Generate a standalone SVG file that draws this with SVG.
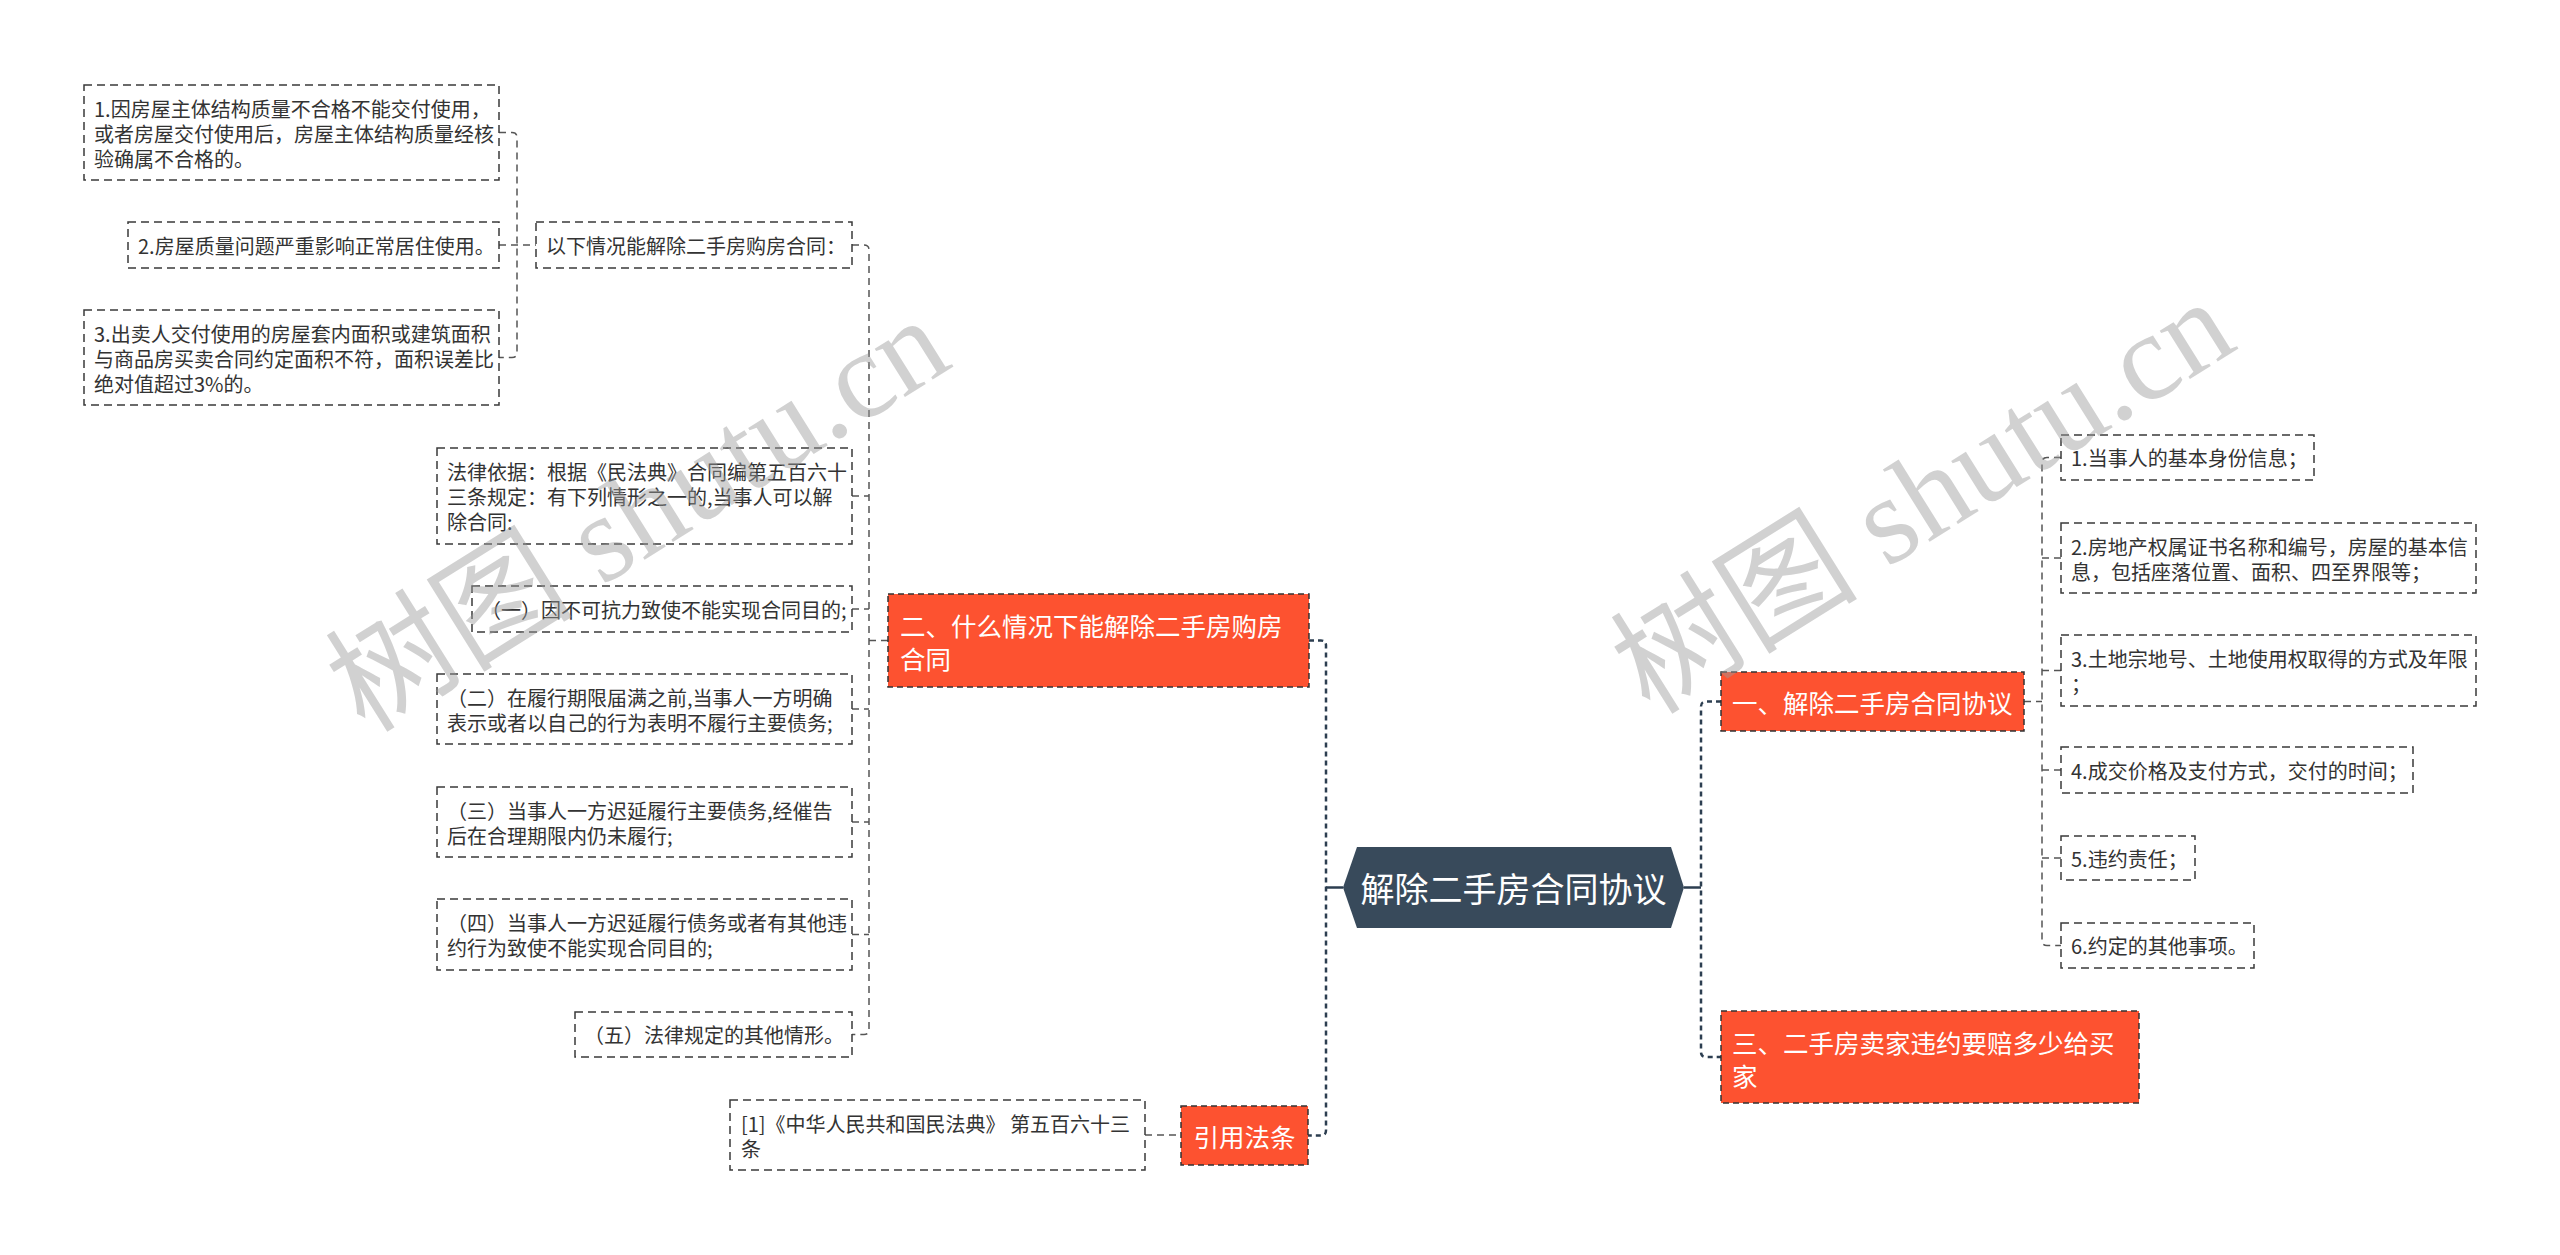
<svg xmlns="http://www.w3.org/2000/svg" width="2560" height="1255" viewBox="0 0 2560 1255">
<style>
  .bg { fill: #ffffff; }
  .leaf rect { fill: #ffffff; stroke: #3a3a3a; stroke-width: 1.5; stroke-dasharray: 8 5; }
  .leaf text { font-family: "Noto Sans CJK SC", "Liberation Sans", sans-serif; font-size: 20px; fill: #333333; dominant-baseline: central; }
  .branch rect { fill: #fd5230; stroke: #333333; stroke-width: 1.5; stroke-dasharray: 6 4; }
  .branch text { font-family: "Noto Sans CJK SC", "Liberation Sans", sans-serif; font-size: 25.5px; fill: #ffffff; dominant-baseline: central; }
  .root polygon { fill: #384a5b; }
  .root text { font-family: "Noto Sans CJK SC", "Liberation Sans", sans-serif; font-size: 34px; fill: #ffffff; dominant-baseline: central; text-anchor: middle; }
  .thin { fill: none; stroke: #555555; stroke-width: 1.5; stroke-dasharray: 7 5; }
  .main { fill: none; stroke: #2c3e50; stroke-width: 2.5; stroke-dasharray: 5 4; }
  .solid { fill: none; stroke: #2c3e50; stroke-width: 2.5; }
  .wm { font-family: "Liberation Serif", "Noto Sans CJK SC", serif; font-size: 124px; fill: #999999; fill-opacity: 0.45; text-anchor: middle; }
</style>
<rect class="bg" x="0" y="0" width="2560" height="1255"/>

<g id="connectors">
  <path class="main" d="M1309,640.5 H1321 Q1326,640.5 1326,645.5 V1130.5 Q1326,1135.5 1321,1135.5 H1308"/>
  <path class="main" d="M1721,701.5 H1706 Q1701,701.5 1701,706.5 V1052 Q1701,1057 1706,1057 H1721"/>
  <path class="solid" d="M1343,887.5 H1326"/>
  <path class="solid" d="M1684,887.5 H1701"/>
  <path class="thin" d="M499,132.5 H512 Q517,132.5 517,137.5 V352.5 Q517,357.5 512,357.5 H499"/>
  <path class="thin" d="M499,245 H536"/>
  <path class="thin" d="M852,245 H864 Q869,245 869,250 V1029.5 Q869,1034.5 864,1034.5 H852"/>
  <path class="thin" d="M852,496 H869 M852,609 H869 M852,709 H869 M852,822 H869 M852,934.5 H869"/>
  <path class="thin" d="M869,640.5 H888"/>
  <path class="thin" d="M1145,1135 H1181"/>
  <path class="thin" d="M2061,457.5 H2047 Q2042,457.5 2042,462.5 V940.5 Q2042,945.5 2047,945.5 H2061"/>
  <path class="thin" d="M2042,558 H2061 M2042,670.5 H2061 M2042,770 H2061 M2042,858 H2061"/>
  <path class="thin" d="M2024,701.5 H2042"/>
</g>

<g id="root" class="root">
  <polygon points="1343,887.5 1357,847 1671,847 1684,887.5 1671,928 1357,928"/>
  <text x="1513.5" y="887.5">解除二手房合同协议</text>
</g>

<g id="n2" class="branch">
  <rect x="888" y="594" width="421" height="93"/>
  <text><tspan x="900" y="624">二、什么情况下能解除二手房购房</tspan><tspan x="900" y="657">合同</tspan></text>
</g>
<g id="n2-0" class="leaf">
  <rect x="536" y="222" width="316" height="46"/>
  <text x="546" y="245">以下情况能解除二手房购房合同：</text>
</g>
<g id="n2-0-1" class="leaf">
  <rect x="84" y="85" width="415" height="95"/>
  <text><tspan x="94" y="107.5">1.因房屋主体结构质量不合格不能交付使用，</tspan><tspan x="94" y="132.5">或者房屋交付使用后，房屋主体结构质量经核</tspan><tspan x="94" y="157.5">验确属不合格的。</tspan></text>
</g>
<g id="n2-0-2" class="leaf">
  <rect x="128" y="222" width="371" height="46"/>
  <text x="138" y="245">2.房屋质量问题严重影响正常居住使用。</text>
</g>
<g id="n2-0-3" class="leaf">
  <rect x="84" y="310" width="415" height="95"/>
  <text><tspan x="94" y="332.5">3.出卖人交付使用的房屋套内面积或建筑面积</tspan><tspan x="94" y="357.5">与商品房买卖合同约定面积不符，面积误差比</tspan><tspan x="94" y="382.5">绝对值超过3%的。</tspan></text>
</g>
<g id="n2-1" class="leaf">
  <rect x="437" y="448" width="415" height="96"/>
  <text><tspan x="447" y="471">法律依据：根据《民法典》合同编第五百六十</tspan><tspan x="447" y="496">三条规定：有下列情形之一的,当事人可以解</tspan><tspan x="447" y="521">除合同:</tspan></text>
</g>
<g id="n2-2" class="leaf">
  <rect x="472" y="586" width="380" height="46"/>
  <text x="481" y="609">（一）因不可抗力致使不能实现合同目的;</text>
</g>
<g id="n2-3" class="leaf">
  <rect x="437" y="674" width="415" height="70"/>
  <text><tspan x="447" y="696.5">（二）在履行期限届满之前,当事人一方明确</tspan><tspan x="447" y="721.5">表示或者以自己的行为表明不履行主要债务;</tspan></text>
</g>
<g id="n2-4" class="leaf">
  <rect x="437" y="787" width="415" height="70"/>
  <text><tspan x="447" y="809.5">（三）当事人一方迟延履行主要债务,经催告</tspan><tspan x="447" y="834.5">后在合理期限内仍未履行;</tspan></text>
</g>
<g id="n2-5" class="leaf">
  <rect x="437" y="899" width="415" height="71"/>
  <text><tspan x="447" y="922">（四）当事人一方迟延履行债务或者有其他违</tspan><tspan x="447" y="947">约行为致使不能实现合同目的;</tspan></text>
</g>
<g id="n2-6" class="leaf">
  <rect x="575" y="1012" width="277" height="45"/>
  <text x="584" y="1034.5">（五）法律规定的其他情形。</text>
</g>

<g id="ref" class="branch">
  <rect x="1181" y="1106" width="127" height="59"/>
  <text x="1244.5" y="1135.5" text-anchor="middle">引用法条</text>
</g>
<g id="ref-1" class="leaf">
  <rect x="730" y="1100" width="415" height="70"/>
  <text><tspan x="741" y="1122.5">[1]《中华人民共和国民法典》 第五百六十三</tspan><tspan x="741" y="1147.5">条</tspan></text>
</g>

<g id="n1" class="branch">
  <rect x="1721" y="672" width="303" height="59"/>
  <text x="1732" y="701.5">一、解除二手房合同协议</text>
</g>
<g id="n1-1" class="leaf">
  <rect x="2061" y="435" width="253" height="45"/>
  <text x="2071" y="457.5">1.当事人的基本身份信息；</text>
</g>
<g id="n1-2" class="leaf">
  <rect x="2061" y="523" width="415" height="70"/>
  <text><tspan x="2071" y="545.5">2.房地产权属证书名称和编号，房屋的基本信</tspan><tspan x="2071" y="570.5">息，包括座落位置、面积、四至界限等；</tspan></text>
</g>
<g id="n1-3" class="leaf">
  <rect x="2061" y="635" width="415" height="71"/>
  <text><tspan x="2071" y="658">3.土地宗地号、土地使用权取得的方式及年限</tspan><tspan x="2071" y="683">；</tspan></text>
</g>
<g id="n1-4" class="leaf">
  <rect x="2061" y="747" width="352" height="46"/>
  <text x="2071" y="770">4.成交价格及支付方式，交付的时间；</text>
</g>
<g id="n1-5" class="leaf">
  <rect x="2061" y="836" width="134" height="44"/>
  <text x="2071" y="858">5.违约责任；</text>
</g>
<g id="n1-6" class="leaf">
  <rect x="2061" y="923" width="193" height="45"/>
  <text x="2071" y="945.5">6.约定的其他事项。</text>
</g>

<g id="n3" class="branch">
  <rect x="1721" y="1011" width="418" height="92"/>
  <text><tspan x="1732" y="1040.5">三、二手房卖家违约要赔多少给买</tspan><tspan x="1732" y="1073.5">家</tspan></text>
</g>

<g id="watermarks">
  <text class="wm" x="660" y="550" transform="rotate(-32 660 550)">树图 shutu.cn</text>
  <text class="wm" x="1945" y="532" transform="rotate(-32 1945 532)">树图 shutu.cn</text>
</g>
</svg>
